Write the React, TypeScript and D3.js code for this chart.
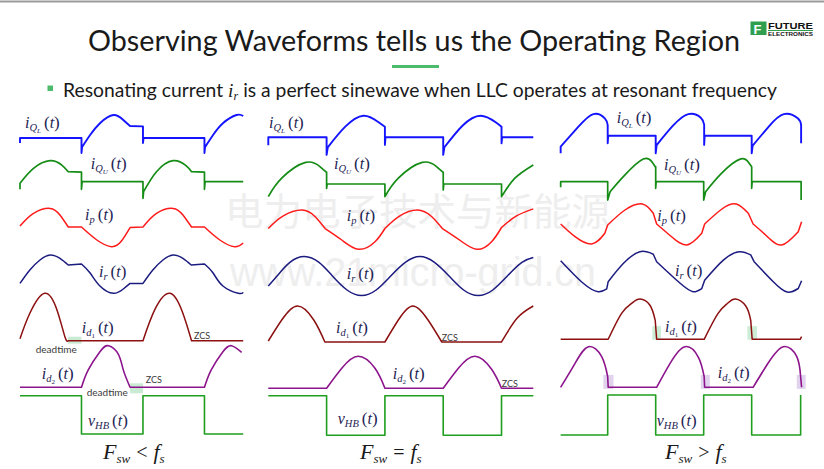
import React from 'react';
import * as d3 from 'd3';

// waveform data: t in switching half-periods of each panel, v in normalised current units
type Pt = [number, number];
type Seg = ['c' | 'l', Pt[]];

// ---- panel 1 : Fsw < fs ----
const P1_IQL: Seg[] = [
  ['l', [[0, -0.25], [0, 0], [1, 0], [1, -0.75], [1.01, -0.45]]],
  ['c', [[1.01, -0.45], [1.14, 0.15], [1.3, 0.74], [1.52, 1.15], [1.68, 0.9], [1.79, 0.6]]],
  ['l', [[1.79, 0.6], [1.99, 0.58], [2, 0.58], [2, -0.25], [2.01, 0], [3, 0], [3, -0.75], [3.01, -0.45]]],
  ['c', [[3.01, -0.45], [3.14, 0.15], [3.3, 0.74], [3.52, 1.15], [3.63, 1.1]]],
];
const P1_IQU: Seg[] = [
  ['l', [[0, -0.38], [0, -0.08]]],
  ['c', [[0, -0.08], [0.22, 0.67], [0.49, 1.05], [0.68, 0.83], [0.785, 0.5]]],
  ['l', [[0.785, 0.5], [1, 0.48], [1, -0.38], [1.01, 0], [2, 0], [2, -0.83], [2.01, -0.5]]],
  ['c', [[2.01, -0.5], [2.22, 0.5], [2.49, 1.05], [2.7, 0.8], [2.79, 0.5]]],
  ['l', [[2.79, 0.5], [3, 0.48], [3, -0.38], [3.01, 0], [3.63, 0]]],
];
const P1_IP: Seg[] = [
  ['c', [[0, 0.05], [0.22, 0.68], [0.49, 0.93], [0.65, 0.6], [0.785, 0]]],
  ['l', [[0.785, 0], [1, 0]]],
  ['c', [[1, 0], [1.25, -0.65], [1.49, -0.985], [1.65, -0.7], [1.79, -0.03]]],
  ['l', [[1.79, -0.03], [2, 0]]],
  ['c', [[2, 0], [2.22, 0.68], [2.49, 0.93], [2.65, 0.6], [2.79, 0]]],
  ['l', [[2.79, 0], [3, 0]]],
  ['c', [[3, 0], [3.25, -0.65], [3.49, -0.985], [3.63, -0.8]]],
];
const P1_IR: Seg[] = [
  ['c', [[0, -0.47], [0.16, 0.2], [0.325, 0.7], [0.49, 0.95], [0.65, 0.78], [0.785, 0.45]]],
  ['l', [[0.785, 0.45], [1, 0.5]]],
  ['c', [[1, 0.5], [1.14, 0.05], [1.3, -0.6], [1.52, -0.965], [1.68, -0.75], [1.79, -0.47]]],
  ['l', [[1.79, -0.47], [2, -0.47]]],
  ['c', [[2, -0.47], [2.16, 0.2], [2.325, 0.7], [2.49, 0.95], [2.65, 0.78], [2.785, 0.45]]],
  ['l', [[2.785, 0.45], [3, 0.5]]],
  ['c', [[3, 0.5], [3.14, 0.05], [3.3, -0.6], [3.55, -0.965], [3.63, -0.92]]],
];
const P1_ID1: Seg[] = [
  ['c', [[0, 0.1], [0.16, 1.37], [0.4, 2.37], [0.6, 1.55], [0.73, 0.2], [0.785, 0]]],
  ['l', [[0.785, 0], [2, 0]]],
  ['c', [[2, 0], [2.2, 1.6], [2.44, 2.37], [2.64, 1.45], [2.79, 0]]],
  ['l', [[2.79, 0], [3.63, 0]]],
];
const P1_ID2: Seg[] = [
  ['l', [[0, 0], [1, 0]]],
  ['c', [[1, 0], [1.11, 0.87], [1.3, 1.78], [1.44, 2.08], [1.6, 1.65], [1.68, 0.87], [1.79, 0]]],
  ['l', [[1.79, 0], [3, 0]]],
  ['c', [[3, 0], [3.11, 0.87], [3.3, 1.78], [3.44, 2.08], [3.605, 1.75]]],
];
const P1_VHB: Seg[] = [
  ['l', [[0, 1], [1, 1], [1, -1], [2, -1], [2, 1], [3, 1], [3, -1], [3.63, -1]]],
];

// ---- panel 2 : Fsw = fs ----
const P2_IQL: Seg[] = [
  ['l', [[0, -0.4], [0, 0], [1, 0], [1, -0.88], [1.02, -0.5]]],
  ['c', [[1.02, -0.5], [1.32, 0.53], [1.63, 1.08], [1.88, 0.78], [2, 0.53]]],
  ['l', [[2, 0.53], [2, -0.38], [2.01, 0], [3, 0], [3, -0.88], [3.02, -0.5]]],
  ['c', [[3.02, -0.5], [3.33, 0.58], [3.64, 1.08], [3.9, 0.75], [4, 0.53]]],
  ['l', [[4, 0.53], [4, -0.3], [4.01, 0], [4.545, 0]]],
];
const P2_IQU: Seg[] = [
  ['c', [[0, -0.63], [0.23, 0.29], [0.64, 1.08], [0.89, 0.86], [0.99, 0.6]]],
  ['l', [[0.99, 0.6], [1, 0.6], [1, -0.22], [1.01, 0], [2, 0], [2, -0.63]]],
  ['c', [[2, -0.63], [2.23, 0.29], [2.64, 1.08], [2.89, 0.86], [2.99, 0.6]]],
  ['l', [[2.99, 0.6], [3, 0.6], [3, -0.3], [3.01, 0], [4, 0], [4, -0.63]]],
  ['c', [[4, -0.63], [4.23, 0.29], [4.545, 0.95]]],
];
const P2_IP: Seg[] = [
  ['c', [[0, 0], [0.25, 0.62], [0.58, 0.925], [0.8, 0.6], [0.975, 0]]],
  ['c', [[0.975, 0], [1.26, -0.575], [1.55, -1.04], [1.83, -0.66], [2, 0]]],
  ['c', [[2, 0], [2.25, 0.62], [2.56, 0.925], [2.8, 0.6], [2.985, 0]]],
  ['c', [[2.985, 0], [3.28, -0.575], [3.575, -1.04], [3.83, -0.66], [4, 0.05]]],
  ['c', [[4, 0.05], [4.25, 0.62], [4.545, 0.98]]],
];
const P2_IR: Seg[] = [
  ['c', [[0, -0.5], [0.15, 0], [0.37, 0.68], [0.62, 0.97], [0.87, 0.68], [1.1, 0], [1.35, -0.7],
    [1.6, -0.98], [1.85, -0.7], [2.1, 0], [2.35, 0.68], [2.6, 0.97], [2.85, 0.68], [3.1, 0],
    [3.35, -0.7], [3.6, -0.98], [3.85, -0.7], [4.1, 0], [4.35, 0.68], [4.545, 0.92]]],
];
const P2_ID1: Seg[] = [
  ['c', [[0, 0.05], [0.23, 1.1], [0.5, 1.8], [0.78, 1.1], [0.97, 0]]],
  ['l', [[0.97, 0], [2, 0]]],
  ['c', [[2, 0], [2.23, 1.1], [2.48, 1.8], [2.74, 1.1], [2.975, 0]]],
  ['l', [[2.975, 0], [4, 0]]],
  ['c', [[4, 0], [4.27, 1.2], [4.545, 1.8]]],
];
const P2_ID2: Seg[] = [
  ['l', [[0, 0], [1, 0]]],
  ['c', [[1, 0], [1.26, 1.0], [1.54, 1.6], [1.83, 1.0], [2, 0]]],
  ['l', [[2, 0], [3, 0]]],
  ['c', [[3, 0], [3.26, 1.0], [3.545, 1.6], [3.83, 0.95], [4, 0]]],
  ['l', [[4, 0], [4.545, 0]]],
];
const P2_VHB: Seg[] = [
  ['l', [[0, 1], [1, 1], [1, -1], [2, -1], [2, 1], [3, 1], [3, -1], [4, -1], [4, 1], [4.545, 1]]],
];

// ---- panel 3 : Fsw > fs ----
const P3_IQL: Seg[] = [
  ['l', [[0.02, -0.88], [0.02, -0.55]]],
  ['c', [[0.02, -0.55], [0.39, 0.45], [0.7, 1.08], [0.94, 0.87], [1, 0.53]]],
  ['l', [[1, 0.53], [1, -0.38], [1.01, 0], [2, 0], [2, -0.88], [2.02, -0.47]]],
  ['c', [[2.02, -0.47], [2.36, 0.5], [2.68, 1.08], [2.94, 0.9], [3.01, 0.55]]],
  ['l', [[3.01, 0.55], [3.01, -0.46], [3.02, 0], [4, 0], [4, -0.88], [4.02, -0.5]]],
  ['c', [[4.02, -0.5], [4.36, 0.47], [4.67, 1.08], [4.96, 0.87], [5.03, 0.53]]],
  ['l', [[5.03, 0.53], [5.03, -0.38]]],
];
const P3_IQU: Seg[] = [
  ['l', [[0.02, -0.28], [0.02, 0], [1, 0], [1, -0.92], [1.05, -0.5]]],
  ['c', [[1.05, -0.5], [1.36, 0.34], [1.74, 1.13], [1.92, 1.0], [1.99, 0.75]]],
  ['l', [[1.99, 0.75], [2, 0.75], [2, -0.33], [2.01, 0], [3, 0], [3, -0.92], [3.04, -0.5]]],
  ['c', [[3.04, -0.5], [3.37, 0.42], [3.76, 1.13], [3.94, 0.95], [4, 0.75]]],
  ['l', [[4, 0.75], [4, -0.33], [4.01, 0], [5.03, 0], [5.03, -0.92]]],
];
const P3_IP: Seg[] = [
  ['c', [[0.02, 0.05], [0.32, -0.585], [0.67, -0.95], [0.94, -0.415]]],
  ['l', [[0.94, -0.415], [1, 0]]],
  ['c', [[1, 0], [1.36, 0.75], [1.72, 1.05], [1.95, 0.585]]],
  ['l', [[1.95, 0.585], [2.02, 0.05]]],
  ['c', [[2.02, 0.05], [2.33, -0.585], [2.65, -1.0], [2.96, -0.415]]],
  ['l', [[2.96, -0.415], [3.02, 0.05]]],
  ['c', [[3.02, 0.05], [3.38, 0.8], [3.68, 1.05], [3.93, 0.585]]],
  ['l', [[3.93, 0.585], [4.03, 0.05]]],
  ['c', [[4.03, 0.05], [4.33, -0.585], [4.625, -1.0], [4.97, -0.335]]],
  ['l', [[4.97, -0.335], [5.04, 0.165]]],
];
const P3_IR: Seg[] = [
  ['c', [[0.02, 0.55], [0.49, -0.58], [0.8, -1.0], [0.98, -0.86]]],
  ['l', [[0.98, -0.86], [1.01, -0.5]]],
  ['c', [[1.01, -0.5], [1.33, 0.42], [1.67, 1.0], [1.95, 0.87]]],
  ['l', [[1.95, 0.87], [2.02, 0.5]]],
  ['c', [[2.02, 0.5], [2.51, -0.58], [2.78, -1.0], [2.96, -0.84]]],
  ['l', [[2.96, -0.84], [3.02, -0.43]]],
  ['c', [[3.02, -0.43], [3.41, 0.58], [3.74, 1.0], [3.98, 0.84]]],
  ['l', [[3.98, 0.84], [4.05, 0.5]]],
  ['c', [[4.05, 0.5], [4.45, -0.5], [4.74, -1.02], [4.97, -0.84]]],
  ['l', [[4.97, -0.84], [5.04, -0.45]]],
];
const P3_ID1: Seg[] = [
  ['l', [[0.02, 0], [1.01, 0]]],
  ['c', [[1.01, 0], [1.29, 1.3], [1.5, 1.8], [1.67, 2.01], [1.88, 1.7], [1.99, 0.95]]],
  ['l', [[1.99, 0.95], [2.02, 0], [3.01, 0]]],
  ['c', [[3.01, 0], [3.3, 1.3], [3.5, 1.8], [3.66, 2.01], [3.88, 1.65], [3.98, 0.95]]],
  ['l', [[3.98, 0.95], [4.01, 0], [5.01, 0], [5.04, 0.13]]],
];
const P3_ID2: Seg[] = [
  ['c', [[0.02, 0], [0.32, 1.2], [0.6, 2.03], [0.875, 1.53], [1, 0.53]]],
  ['l', [[1, 0.53], [1.01, 0], [2.02, 0]]],
  ['c', [[2.02, 0], [2.3, 1.2], [2.61, 2.03], [2.89, 1.5], [3.01, 0.53]]],
  ['l', [[3.01, 0.53], [3.02, 0], [4.03, 0]]],
  ['c', [[4.03, 0], [4.34, 1.2], [4.66, 2.03], [4.94, 1.53], [5.02, 0.53]]],
  ['l', [[5.02, 0.53], [5.04, 0]]],
];
const P3_VHB: Seg[] = [
  ['l', [[0.02, -1], [1, -1], [1, 1], [2, 1], [2, -1], [3, -1], [3, 1], [4, 1], [4, -1], [5.02, -1], [5.02, 1]]],
];

// shaded intervals: [row, t0, t1, v0, v1, colour]
type Shade = [number, number, number, number, number, string];
const P1_SHADES: Shade[] = [
  [4, 0.78, 1.0, -0.15, 0.2, '#bfe8cb'],
  [5, 1.79, 2.0, -0.3, 0.2, '#bfe8cb'],
];
const P3_SHADES: Shade[] = [
  [4, 1.93, 2.11, -0.02, 0.66, '#c4ebcf'],
  [4, 3.91, 4.11, -0.02, 0.66, '#c4ebcf'],
  [5, 0.91, 1.12, -0.08, 0.62, '#dccbea'],
  [5, 2.94, 3.13, -0.08, 0.62, '#dccbea'],
  [5, 4.94, 5.125, -0.08, 0.62, '#dccbea'],
];

const ROW_LABELS = [
  { m: 'i', s: 'Q', ss: 'L' },
  { m: 'i', s: 'Q', ss: 'U' },
  { m: 'i', s: 'p' },
  { m: 'i', s: 'r' },
  { m: 'i', s: 'd', ss: '1' },
  { m: 'i', s: 'd', ss: '2' },
  { m: 'v', s: 'HB' },
];
const ROW_COLORS = ['#1414ff', '#158c15', '#ff1a1a', '#1c1c80', '#8c1010', '#8c148c', '#1f9e1f'];
const ROW_WIDTHS = [1.9, 1.7, 1.5, 1.5, 1.5, 1.6, 1.6];
const CAPTIONS = ['<', '=', '>'];

const UNIT = 20; // px per current unit
const LABEL_COLOR = '#1e2454';

const PANELS = [
  {
    x: [20, 243.2], t: 3.63,
    zero: [138, 181.7, 227, 274, 340.7, 387.3, 414.85], vHalf: 19.15,
    series: [P1_IQL, P1_IQU, P1_IP, P1_IR, P1_ID1, P1_ID2, P1_VHB],
    shades: P1_SHADES,
    labels: [[25, 127.5], [90.7, 169], [85, 220], [99, 277], [81.7, 333], [41.7, 379], [88, 426]],
    notes: [['deadtime', 35.7, 353], ['deadtime', 86.7, 396], ['ZCS', 194, 338.5], ['ZCS', 145.7, 382.5]],
    caption: [103, 459],
  },
  {
    x: [268.3, 533.3], t: 4.545,
    zero: [137.3, 184, 228.5, 276, 342, 388.3, 415.5], vHalf: 19.8,
    series: [P2_IQL, P2_IQU, P2_IP, P2_IR, P2_ID1, P2_ID2, P2_VHB],
    shades: [] as Shade[],
    labels: [[269, 128], [334, 169], [346.7, 221], [346.7, 279], [336, 333], [392.7, 379], [337.7, 424]],
    notes: [['ZCS', 441.7, 340.5], ['ZCS', 501.7, 386.5]],
    caption: [360, 459],
  },
  {
    x: [559.7, 801.6], t: 5.04,
    zero: [135.7, 181.7, 225, 271.7, 339.3, 387.3, 415], vHalf: 20,
    series: [P3_IQL, P3_IQU, P3_IP, P3_IR, P3_ID1, P3_ID2, P3_VHB],
    shades: P3_SHADES,
    labels: [[616.7, 122.5], [664, 170], [657.3, 221], [675, 276], [665, 332], [717.7, 377.5], [656.7, 426]],
    notes: [] as (string | number)[][],
    caption: [665, 459],
  },
];

const SERIF = "'Liberation Serif', 'DejaVu Serif', serif";
const SANS = "Lato, 'Open Sans', sans-serif";

function Label({ x, y, m, s, ss }: { x: number; y: number; m: string; s: string; ss?: string }) {
  const digit = ss && /\d/.test(ss);
  return (
    <text x={x} y={y} fill={LABEL_COLOR} fontFamily={SERIF}>
      <tspan fontStyle="italic" fontSize={16}>{m}</tspan>
      <tspan fontStyle="italic" fontSize={10.5} dy={3}>{s}</tspan>
      {ss && <tspan fontStyle={digit ? 'normal' : 'italic'} fontSize={7} dy={2}>{ss}</tspan>}
      <tspan fontSize={17} dy={ss ? -5 : -3} dx={3}>(</tspan>
      <tspan fontStyle="italic" fontSize={16}>t</tspan>
      <tspan fontSize={17}>)</tspan>
    </text>
  );
}

function Panel({ p, idx }: { p: typeof PANELS[number]; idx: number }) {
  const xs = d3.scaleLinear().domain([0, p.t]).range(p.x);
  const yOf = (row: number) =>
    row === 6
      ? d3.scaleLinear().domain([-1, 1]).range([p.zero[6] + p.vHalf, p.zero[6] - p.vHalf])
      : d3.scaleLinear().domain([0, 1]).range([p.zero[row], p.zero[row] - UNIT]);

  const pathOf = (segs: Seg[], row: number) => {
    const ys = yOf(row);
    return segs
      .map((s, i) => {
        const g = d3.line<Pt>()
          .x(d => xs(d[0]))
          .y(d => ys(d[1]))
          .curve(s[0] === 'c' ? d3.curveNatural : d3.curveLinear);
        const d = g(s[1]) || '';
        return i > 0 ? d.replace(/^M/, 'L') : d;
      })
      .join('');
  };

  return (
    <g>
      {p.shades.map((sh, i) => {
        const ys = yOf(sh[0]);
        return (
          <rect key={i} x={xs(sh[1])} width={xs(sh[2]) - xs(sh[1])}
            y={ys(sh[4])} height={ys(sh[3]) - ys(sh[4])} fill={sh[5]} opacity={0.85} />
        );
      })}
      {p.series.map((segs, row) => (
        <path key={row} d={pathOf(segs, row)} fill="none" stroke={ROW_COLORS[row]}
          strokeWidth={ROW_WIDTHS[row]} strokeLinejoin="round" />
      ))}
      {p.labels.map(([x, y], row) => (
        <Label key={row} x={x} y={y} {...ROW_LABELS[row]} />
      ))}
      {p.notes.map(([txt, x, y], i) => (
        <text key={i} x={x as number} y={y as number} fontSize={txt === 'ZCS' ? 9 : 10}
          fontFamily={SANS} fill="#3a3a3a">{txt}</text>
      ))}
      <text x={p.caption[0]} y={p.caption[1]} fill="#1a1a1a" fontFamily={SERIF}>
        <tspan fontStyle="italic" fontSize={22}>F</tspan>
        <tspan fontStyle="italic" fontSize={13} dy={4}>sw</tspan>
        <tspan fontSize={20} dy={-4} dx={6}>{CAPTIONS[idx]}</tspan>
        <tspan fontStyle="italic" fontSize={22} dx={6}>f</tspan>
        <tspan fontStyle="italic" fontSize={13} dy={4}>s</tspan>
      </text>
    </g>
  );
}

export default function App() {
  return (
    <svg width={824} height={469} viewBox="0 0 824 469"
      style={{ position: 'absolute', left: 0, top: 0, background: '#fff', display: 'block' }}>
      <rect x={0} y={0} width={824} height={469} fill="#fff" />
      <line x1={0} x2={824} y1={1.5} y2={1.5} stroke="#9a9a9a" strokeWidth={2} />

      {/* watermark */}
      <text x={225} y={225} fontSize={38} fontFamily="'Noto Sans CJK SC', sans-serif" fill="#eeeeee"
        textLength={385} lengthAdjust="spacingAndGlyphs">电力电子技术与新能源</text>
      <text x={230} y={286} fontSize={40} fontFamily="'Liberation Sans', Arial, sans-serif" fill="#eeeeee"
        textLength={366} lengthAdjust="spacingAndGlyphs">www.21micro-grid.cn</text>

      {/* title */}
      <text x={88} y={51} fontSize={28} fontFamily={SANS} fill="#1a1a1a"
        textLength={652} lengthAdjust="spacingAndGlyphs">Observing Waveforms tells us the Operating Region</text>
      <rect x={392} y={65} width={47} height={3} fill="#4cbb6c" />

      {/* logo */}
      <rect x={750.5} y={21.5} width={16} height={13.5} fill="#2f9e4f" />
      <text x={753.5} y={33.5} fontSize={13} fontWeight="bold" fontFamily="'Liberation Sans', sans-serif"
        fill="#fff">F</text>
      <text x={768} y={28.5} fontSize={9.5} fontWeight="bold" fontFamily="'Liberation Sans', sans-serif"
        fill="#111" textLength={45} lengthAdjust="spacingAndGlyphs">FUTURE</text>
      <line x1={768} x2={813} y1={30.5} y2={30.5} stroke="#2f9e4f" strokeWidth={1} />
      <text x={768} y={35.5} fontSize={4.5} fontWeight="bold" fontFamily="'Liberation Sans', sans-serif"
        fill="#111" textLength={45} lengthAdjust="spacingAndGlyphs">ELECTRONICS</text>

      {/* subtitle */}
      <rect x={47.5} y={85.5} width={5.5} height={5.5} fill="#4cbb6c" />
      <text x={63} y={97} fontSize={19} fontFamily={SANS} fill="#1a1a1a"
        textLength={714} lengthAdjust="spacingAndGlyphs">
        Resonating current <tspan fontFamily={SERIF} fontStyle="italic">i</tspan>
        <tspan fontFamily={SERIF} fontStyle="italic" fontSize={12} dy={3}>r</tspan>
        <tspan dy={-3}> is a perfect sinewave when LLC operates at resonant frequency</tspan>
      </text>

      {PANELS.map((p, i) => <Panel key={i} p={p} idx={i} />)}
    </svg>
  );
}
